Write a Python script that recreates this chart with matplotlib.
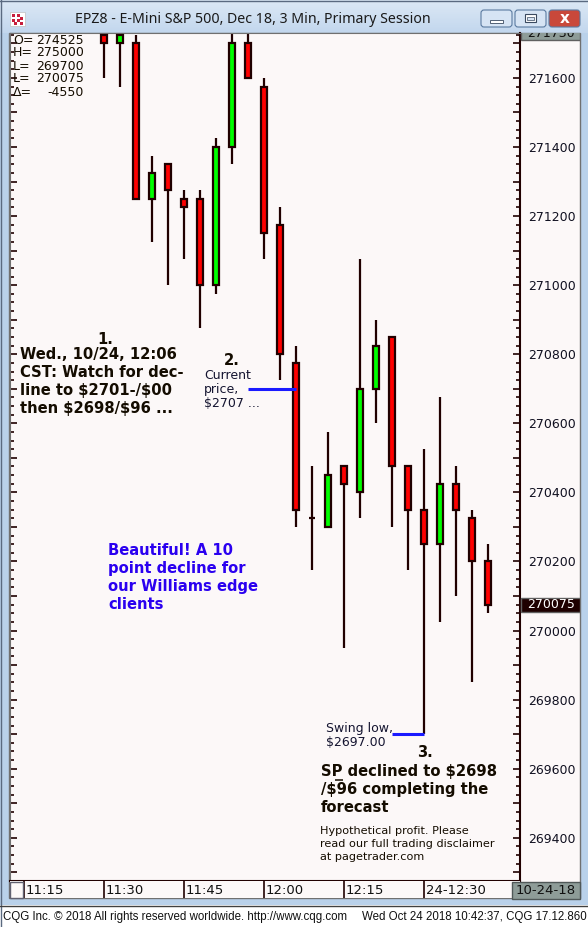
import matplotlib
matplotlib.use("Agg")
import matplotlib.pyplot as plt
from matplotlib.patches import Rectangle, FancyBboxPatch
from matplotlib.ticker import MultipleLocator, FuncFormatter

plt.rcParams['font.family'] = 'DejaVu Sans'

# EPZ8 3 min bars, first bar is 11:30 CST (prices in CQG units, 271600 = 2716.00)
bar_open = [271725, 271700, 271700, 271250, 271350, 271250, 271250, 271000, 271400, 271700,
            271575, 271175, 270775, 270325, 270300, 270475, 270400, 270700, 270850, 270475,
            270350, 270250, 270425, 270325, 270200]
bar_high = [271775, 271750, 271725, 271375, 271350, 271275, 271275, 271425, 271775, 271775,
            271600, 271225, 270825, 270475, 270575, 270475, 271075, 270900, 270850, 270475,
            270525, 270675, 270475, 270350, 270250]
bar_low = [271600, 271575, 271250, 271125, 271000, 271075, 270875, 270975, 271350, 271600,
           271075, 270725, 270300, 270175, 270300, 269950, 270325, 270600, 270300, 270175,
           269700, 270025, 270100, 269850, 270050]
bar_close = [271700, 271725, 271250, 271325, 271275, 271225, 271000, 271400, 271700, 271600,
             271150, 270800, 270350, 270325, 270450, 270425, 270700, 270825, 270475, 270350,
             270250, 270425, 270350, 270200, 270075]

time_labels = ["11:15", "11:30", "11:45", "12:00", "12:15", "24-12:30"]
label_minutes = [-15, 0, 15, 30, 45, 60]  # minutes after the first bar
BAR_MIN = 3

info_names = ["O=", "H=", "L=", "L=", "\u0394="]
info_values = ["274525", "275000", "269700", "270075", "-4550"]

current_price = 270700   # "current price" line
swing_low = 269700
last_price = 270075
top_price = 271730

RED = '#ff0000'
GREEN = '#00ff00'
EDGE = '#200000'
BG = '#fcf8f8'
INK = '#140c00'
BLUE_LINE = '#1a1aff'

W, H = 588, 927
fig = plt.figure(figsize=(W / 100, H / 100), dpi=100)

# window chrome, drawn in pixel coords
bg = fig.add_axes([0, 0, 1, 1], zorder=0)
bg.set_xlim(0, W)
bg.set_ylim(H, 0)
bg.axis('off')
bg.add_patch(Rectangle((0, 0), W, H, color='#b9d1ea'))
# title bar gradient
top_c = (0.86, 0.91, 0.96)
bot_c = (0.76, 0.84, 0.93)
for k in range(33):
    t = k / 32
    c = tuple(a + (b - a) * t for a, b in zip(top_c, bot_c))
    bg.add_patch(Rectangle((0, k), W, 1, color=c, lw=0))
bg.plot([0, W], [0.5, 0.5], color='#5a6a80', lw=1)
bg.plot([0.5, 0.5], [0, H], color='#5a6a80', lw=1)
# app icon
bg.add_patch(Rectangle((10, 12), 15, 14, facecolor='white', edgecolor='#c0c0c0', lw=0.5))
for (ix, iy) in [(12, 14), (17, 14), (12, 19), (17, 19), (20, 17), (14, 22), (20, 22)]:
    bg.add_patch(Rectangle((ix, iy), 3, 3, color='#c81e3c', lw=0))
bg.text(75, 19, "EPZ8 - E-Mini S&P 500, Dec 18, 3 Min, Primary Session",
        fontsize=10.2, family='Noto Sans', color='#1a1a1a', va='center', ha='left')
# window buttons
for bx, fc in [(481, '#d6e4f4'), (515, '#d6e4f4'), (549, '#c9483a')]:
    bg.add_patch(FancyBboxPatch((bx, 10), 31, 17, boxstyle='round,pad=0,rounding_size=3',
                                facecolor=fc, edgecolor='#5a7aa0', lw=0.8))
bg.add_patch(Rectangle((490, 20), 13, 3, facecolor='#ffffff', edgecolor='#3a4a60', lw=0.6))
bg.add_patch(Rectangle((525, 14), 11, 8, facecolor='#ffffff', edgecolor='#3a4a60', lw=0.8))
bg.add_patch(Rectangle((527, 17), 7, 3, facecolor='#d6e4f4', edgecolor='#3a4a60', lw=0.5))
bg.text(564.5, 18.5, "x", fontsize=11, fontweight='bold', color='white', ha='center', va='center')
# chart panel
bg.add_patch(Rectangle((9, 33), 571, 865, facecolor=BG, edgecolor='#707070', lw=1))
# footer
bg.add_patch(Rectangle((0, 905), W, 22, facecolor='white', edgecolor='none'))
bg.plot([0, W], [905.5, 905.5], color='#404040', lw=1)
bg.text(3, 917, "CQG Inc. \u00a9 2018 All rights reserved worldwide. http://www.cqg.com",
        fontsize=8.3, family='Liberation Sans', color='#101010', va='center', ha='left')
bg.text(W - 1, 917, "Wed Oct 24 2018 10:42:37, CQG 17.12.860",
        fontsize=8.3, family='Liberation Sans', color='#101010', va='center', ha='right')

# main price axes
x0, x1, y0, y1 = 10, 520, 33, 881
ax = fig.add_axes([x0 / W, 1 - y1 / H, (x1 - x0) / W, (y1 - y0) / H], zorder=2)
ax.set_facecolor(BG)
first_x = 104  # pixel of bar 0
px_bar = 16
ax.set_xlim((x0 - first_x) / px_bar, (x1 - first_x) / px_bar)
ax.set_ylim(269275, top_price)
ppx = (top_price - 269275) / (y1 - y0)  # price per pixel

idx = list(range(len(bar_open)))
ax.vlines(idx, bar_low, bar_high, color=EDGE, lw=1.6, zorder=2)
colors = [GREEN if c > o else RED for o, c in zip(bar_open, bar_close)]
ax.bar(idx, [c - o for o, c in zip(bar_open, bar_close)], bottom=bar_open, width=0.36,
       color=colors, edgecolor=EDGE, linewidth=1.6, zorder=3)

ax.yaxis.set_major_locator(MultipleLocator(100))
ax.yaxis.set_minor_locator(MultipleLocator(25))
ax.yaxis.set_major_formatter(FuncFormatter(lambda v, p: "%d" % v if int(round(v)) % 200 == 0 else ""))
ax.tick_params(axis='y', which='both', direction='in', left=True, right=True,
               labelleft=False, labelright=True, color=EDGE, labelsize=9, labelcolor='#101020', pad=6)
ax.tick_params(axis='y', which='major', length=5, width=1.2)
ax.tick_params(axis='y', which='minor', length=3, width=1.2)
ax.tick_params(axis='x', which='both', bottom=False, labelbottom=False)
for s in ['top', 'left']:
    ax.spines[s].set_color('#707070')
for s in ['right', 'bottom']:
    ax.spines[s].set_color(EDGE)
    ax.spines[s].set_linewidth(1.5)

# header info
for k, (nm, val) in enumerate(zip(info_names, info_values)):
    yy = 1 - (7 + k * 13) / (y1 - y0)
    ax.text(0.006, yy, nm, transform=ax.transAxes, fontsize=9, color=INK, va='center')
    ax.text(0.145, yy, val, transform=ax.transAxes, fontsize=9, color=INK, va='center', ha='right')

# blue marker lines
ax.hlines(current_price, 9.0, 12.0, color=BLUE_LINE, lw=2.2, zorder=4)
ax.hlines(swing_low, 18.0, 20.0, color=BLUE_LINE, lw=2.2, zorder=4)


def lines(x, y_first, rows, step_px, **kw):
    for k, r in enumerate(rows):
        ax.text(x, y_first - k * step_px * ppx, r, va='center', parse_math=False, **kw)


BOLD_FS = 10.6
bold = dict(fontsize=BOLD_FS, fontweight='bold', color=INK)
lines(0.06, 270844, ["1."], 18, ha='center', **bold)
lines(-5.25, 270800, ["Wed., 10/24, 12:06", "CST: Watch for dec-", "line to $2701-/$00",
                      "then $2698/$96 ..."], 18, ha='left', **bold)
lines(8.0, 270783, ["2."], 18, ha='center', **bold)
lines(6.25, 270739, ["Current", "price,", "$2707 ..."], 14, ha='left', fontsize=9, color='#141430')
lines(0.25, 270232, ["Beautiful! A 10", "point decline for", "our Williams edge", "clients"], 18,
      ha='left', fontsize=BOLD_FS, fontweight='bold', color='#2a00f0')
lines(13.875, 269716, ["Swing low,", "$2697.00"], 14, ha='left', fontsize=9, color='#141430')
lines(20.06, 269646, ["3."], 18, ha='center', **bold)
lines(13.56, 269591, ["SP declined to $2698", "/$96 completing the", "forecast"], 18,
      ha='left', **bold)
# underline under the "P" of SP
ax.hlines(269591 - 8 * ppx, 14.43, 14.95, color=INK, lw=1.1)
lines(13.5, 269420, ["Hypothetical profit. Please", "read our full trading disclaimer",
                     "at pagetrader.com"], 13, ha='left', fontsize=8.1, color=INK)

# label column to the right of the price axis (boxes are clipped to it)
lab = fig.add_axes([x1 / W, 1 - y1 / H, 60 / W, (y1 - y0) / H], zorder=3, sharey=ax)
lab.set_xlim(0, 60)
lab.axis('off')
for price, fc, tc in [(last_price, '#1e0000', 'white'), (top_price, '#8e9c98', '#101010')]:
    lab.add_patch(Rectangle((1, price - 7 * ppx), 59, 14 * ppx, facecolor=fc,
                            edgecolor='#606060', lw=1, clip_on=True))
    lab.text(31, price, "%d" % price, fontsize=9, color=tc, va='center', ha='center', clip_on=True)

# time row
tax = fig.add_axes([x0 / W, 1 - 898 / H, (x1 - x0) / W, 17 / H], zorder=2, sharex=ax)
tax.set_facecolor(BG)
tax.set_ylim(0, 1)
tax.tick_params(left=False, bottom=False, labelleft=False, labelbottom=False)
for s in tax.spines.values():
    s.set_visible(False)
for lbl, m in zip(time_labels, label_minutes):
    xi = m / BAR_MIN
    tax.axvline(xi, color=EDGE, lw=1.2)
    tax.text(xi + 0.12, 0.45, lbl, fontsize=9.5, color='#101010', va='center', ha='left')

# boxes on top of the time row
top = fig.add_axes([0, 0, 1, 1], zorder=5)
top.set_xlim(0, W)
top.set_ylim(H, 0)
top.axis('off')
top.add_patch(Rectangle((10, 882), 13, 16, facecolor=BG, edgecolor='#606070', lw=1))
top.add_patch(Rectangle((512, 882), 68, 17, facecolor='#8e9c98', edgecolor='#505858', lw=1))
top.text(546, 890.5, "10-24-18", fontsize=9.5, color='#101010', ha='center', va='center')

fig.savefig("out.png", dpi=100)
